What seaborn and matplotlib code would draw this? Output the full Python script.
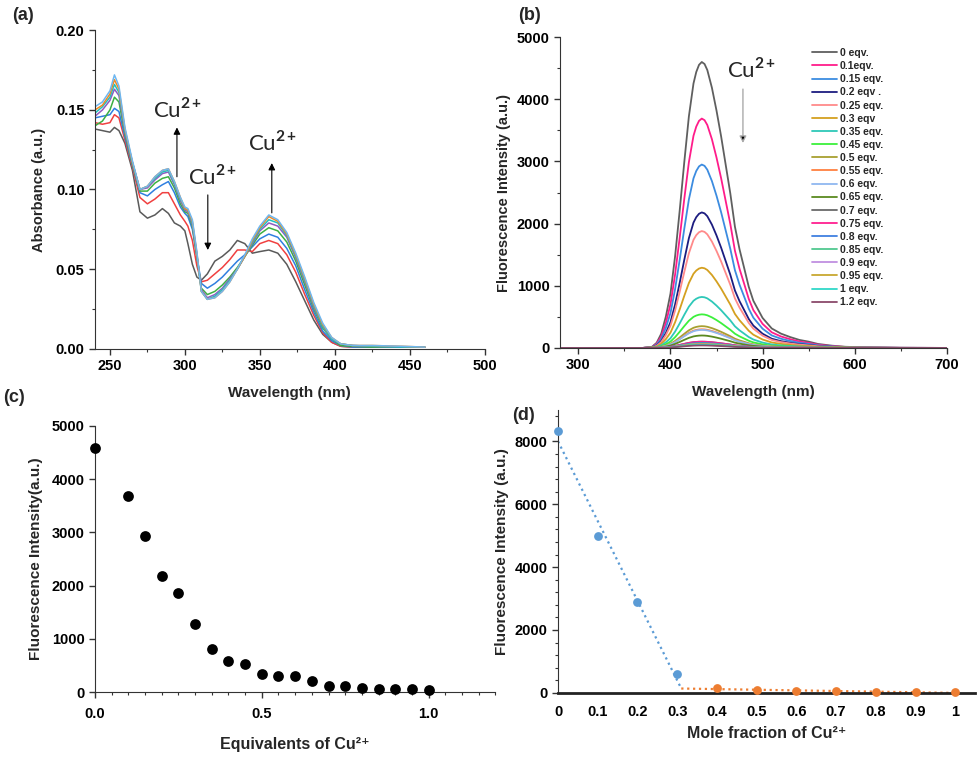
import numpy as np
import pandas as pd
import matplotlib.pyplot as plt
import seaborn as sns
from matplotlib.ticker import MultipleLocator, FormatStrFormatter

# ---------------- (a) UV-vis absorption ----------------
wl_abs = [240, 245, 250, 253, 256, 260, 265, 270, 275, 280, 285, 289, 293, 297, 300, 302, 305, 308, 311, 315,
          320, 325, 330, 335, 340, 345, 350, 356, 362, 368, 374, 380, 386, 392, 398, 404, 412, 425, 445, 460]
abs_gray = [0.138, 0.137, 0.136, 0.139, 0.137, 0.129, 0.112, 0.086, 0.082, 0.084, 0.088, 0.085, 0.079, 0.077, 0.074,
            0.066, 0.053, 0.045, 0.043, 0.047, 0.055, 0.058, 0.062, 0.068, 0.066, 0.060, 0.061, 0.062, 0.060, 0.053,
            0.042, 0.030, 0.018, 0.009, 0.004, 0.0015, 0.001, 0.001, 0.001, 0.001]
abs_red = [0.142, 0.141, 0.142, 0.147, 0.145, 0.131, 0.114, 0.095, 0.091, 0.094, 0.098, 0.098, 0.091, 0.084, 0.080,
           0.077, 0.068, 0.052, 0.042, 0.043, 0.047, 0.051, 0.056, 0.062, 0.062, 0.061, 0.066, 0.068, 0.066, 0.059,
           0.048, 0.034, 0.021, 0.010, 0.004, 0.0015, 0.001, 0.001, 0.001, 0.001]
abs_blue = [0.145, 0.146, 0.147, 0.151, 0.149, 0.133, 0.115, 0.098, 0.096, 0.100, 0.103, 0.105, 0.098, 0.089, 0.085,
            0.083, 0.075, 0.058, 0.041, 0.038, 0.041, 0.045, 0.050, 0.055, 0.059, 0.064, 0.069, 0.072, 0.070, 0.063,
            0.052, 0.037, 0.023, 0.011, 0.005, 0.002, 0.001, 0.001, 0.001, 0.001]
abs_green = [0.140, 0.143, 0.150, 0.158, 0.155, 0.135, 0.116, 0.099, 0.099, 0.104, 0.107, 0.108, 0.101, 0.091, 0.086,
             0.085, 0.077, 0.058, 0.038, 0.034, 0.036, 0.040, 0.045, 0.051, 0.058, 0.065, 0.072, 0.076, 0.074, 0.067,
             0.055, 0.040, 0.025, 0.013, 0.006, 0.002, 0.0015, 0.001, 0.001, 0.001]
abs_purple = [0.146, 0.150, 0.156, 0.163, 0.159, 0.136, 0.117, 0.100, 0.101, 0.106, 0.110, 0.111, 0.103, 0.093, 0.087,
              0.086, 0.078, 0.059, 0.037, 0.032, 0.034, 0.038, 0.044, 0.050, 0.058, 0.066, 0.074, 0.079, 0.077, 0.070,
              0.057, 0.042, 0.026, 0.014, 0.006, 0.003, 0.002, 0.0015, 0.001, 0.001]
abs_cyan = [0.148, 0.152, 0.158, 0.166, 0.161, 0.137, 0.117, 0.100, 0.102, 0.107, 0.111, 0.112, 0.104, 0.094, 0.088,
            0.087, 0.079, 0.059, 0.036, 0.031, 0.033, 0.037, 0.043, 0.050, 0.058, 0.067, 0.075, 0.081, 0.079, 0.071,
            0.058, 0.043, 0.027, 0.014, 0.006, 0.003, 0.002, 0.0015, 0.001, 0.001]
abs_orange = [0.150, 0.153, 0.160, 0.169, 0.163, 0.138, 0.117, 0.100, 0.102, 0.108, 0.112, 0.113, 0.105, 0.095, 0.088,
              0.087, 0.080, 0.060, 0.036, 0.031, 0.032, 0.036, 0.042, 0.050, 0.058, 0.068, 0.076, 0.083, 0.080, 0.072,
              0.059, 0.044, 0.028, 0.015, 0.007, 0.003, 0.002, 0.002, 0.0015, 0.001]
abs_final = [0.152, 0.155, 0.162, 0.172, 0.165, 0.139, 0.118, 0.100, 0.102, 0.108, 0.112, 0.113, 0.105, 0.095, 0.089,
             0.088, 0.081, 0.061, 0.036, 0.031, 0.032, 0.036, 0.042, 0.050, 0.059, 0.069, 0.077, 0.084, 0.081, 0.073,
             0.060, 0.045, 0.029, 0.016, 0.007, 0.003, 0.002, 0.002, 0.0015, 0.001]
abs_curves = {'gray': abs_gray, 'red': abs_red, 'blue': abs_blue, 'green': abs_green,
              'purple': abs_purple, 'cyan': abs_cyan, 'orange': abs_orange, 'final': abs_final}
abs_colors = ['#5a5a5a', '#f04040', '#2f7fe0', '#3cb043', '#8e5cc0', '#20c0c0', '#f08a24', '#6fb7f0']

# ---------------- (b) emission spectra ----------------
wl_em = [280, 370, 380, 385, 390, 395, 400, 405, 410, 415, 420, 425, 428, 431, 434, 437, 440, 445, 450, 455, 460,
         465, 470, 475, 480, 485, 490, 500, 510, 520, 530, 540, 550, 560, 575, 590, 610, 650, 700]
em_shape = [0, 0, 0.004, 0.018, 0.05, 0.11, 0.19, 0.32, 0.48, 0.65, 0.81, 0.925, 0.965, 0.99, 1.0, 0.993, 0.972,
            0.91, 0.83, 0.74, 0.64, 0.54, 0.424, 0.345, 0.28, 0.214, 0.165, 0.105, 0.068, 0.05, 0.038, 0.028,
            0.022, 0.014, 0.008, 0.004, 0.002, 0.0005, 0]
em_labels = ['0 eqv.', '0.1eqv.', '0.15 eqv.', '0.2 eqv .', '0.25 eqv.', '0.3 eqv', '0.35 eqv.', '0.45 eqv.',
             '0.5 eqv.', '0.55 eqv.', '0.6 eqv.', '0.65 eqv.', '0.7 eqv.', '0.75 eqv.', '0.8 eqv.', '0.85 eqv.',
             '0.9 eqv.', '0.95 eqv.', '1 eqv.', '1.2 eqv.']
em_peaks = [4600, 3690, 2950, 2180, 1880, 1290, 820, 540, 350, 300, 290, 200, 100, 100, 80, 70, 60, 60, 50, 40]
em_colors = ['#5f5f5f', '#ff1c8a', '#3c8ce0', '#1c1c80', '#ff8a8a', '#d4a020', '#2ec8b8', '#3cf03c',
             '#a8a030', '#ff8040', '#90b8f0', '#5a8a20', '#6a6a6a', '#ff2090', '#4080e0', '#50c890',
             '#c090e0', '#c8a830', '#30d8c8', '#8b4a6b']

# ---------------- (c) titration ----------------
eq_cu = [0.0, 0.1, 0.15, 0.2, 0.25, 0.3, 0.35, 0.4, 0.45, 0.5, 0.55, 0.6, 0.65, 0.7, 0.75, 0.8, 0.85, 0.9, 0.95, 1.0]
fl_int = [4590, 3680, 2940, 2175, 1870, 1285, 810, 585, 520, 335, 295, 295, 200, 105, 105, 75, 62, 50, 62, 45]

# ---------------- (d) Job plot ----------------
mf_left = [0.0, 0.1, 0.2, 0.3]
job_left = [8340, 4990, 2880, 590]
mf_right = [0.4, 0.5, 0.6, 0.7, 0.8, 0.9, 1.0]
job_right = [158, 84, 53, 42, 21, 21, 21]
job_ticks = [0, 0.1, 0.2, 0.3, 0.4, 0.5, 0.6, 0.7, 0.8, 0.9, 1]
job_ticklabels = ['0', '0.1', '0.2', '0.3', '0.4', '0.5', '0.6', '0.7', '0.8', '0.9', '1']

sns.set_style('ticks')
plt.rcParams['font.family'] = ['Liberation Sans', 'DejaVu Sans']
plt.rcParams['font.weight'] = 'bold'
plt.rcParams['axes.labelweight'] = 'bold'
plt.rcParams['axes.edgecolor'] = '#333333'
plt.rcParams['xtick.color'] = '#333333'
plt.rcParams['ytick.color'] = '#333333'
plt.rcParams['xtick.labelcolor'] = 'black'
plt.rcParams['ytick.labelcolor'] = 'black'
plt.rcParams['mathtext.fontset'] = 'custom'
plt.rcParams['mathtext.rm'] = 'Lato'
plt.rcParams['mathtext.it'] = 'Lato:italic'
plt.rcParams['mathtext.bf'] = 'Lato:bold'

fig = plt.figure(figsize=(9.79, 7.58), dpi=100)
ax_a = fig.add_axes([0.097, 0.540, 0.398, 0.420])
ax_b = fig.add_axes([0.572, 0.541, 0.395, 0.410])
ax_c = fig.add_axes([0.097, 0.087, 0.409, 0.351])
ax_d = fig.add_axes([0.570, 0.086, 0.426, 0.373])

cu_font = dict(family='Lato', fontsize=16, fontweight='normal')
cu_txt = r'Cu$^{\mathrm{2+}}$'
TICK_FS = 10.5

# ---- (a)
df_a = pd.concat([pd.DataFrame({'wl': wl_abs, 'A': v, 'curve': k}) for k, v in abs_curves.items()])
sns.lineplot(data=df_a, x='wl', y='A', hue='curve', palette=abs_colors, estimator=None, sort=False,
             linewidth=1.1, legend=False, ax=ax_a)
ax_a.set_xlim(240, 500)
ax_a.set_ylim(0, 0.20)
ax_a.xaxis.set_major_locator(MultipleLocator(50))
ax_a.xaxis.set_minor_locator(MultipleLocator(25))
ax_a.yaxis.set_major_locator(MultipleLocator(0.05))
ax_a.yaxis.set_minor_locator(MultipleLocator(0.025))
ax_a.yaxis.set_major_formatter(FormatStrFormatter('%.2f'))
ax_a.set_xlabel('Wavelength (nm)', fontsize=11, labelpad=9)
ax_a.set_ylabel('Absorbance (a.u.)', fontsize=10.5, labelpad=7)
ax_a.text(279, 0.150, cu_txt, ha='left', va='center', **cu_font)
ax_a.text(302, 0.108, cu_txt, ha='left', va='center', **cu_font)
ax_a.text(342, 0.129, cu_txt, ha='left', va='center', **cu_font)
arrow_kw = dict(arrowstyle='-|>', color='black', lw=0.8, mutation_scale=10, shrinkA=0, shrinkB=0)
ax_a.annotate('', xy=(294.7, 0.139), xytext=(294.7, 0.108), arrowprops=arrow_kw)
ax_a.annotate('', xy=(315.3, 0.062), xytext=(315.3, 0.0966), arrowprops=arrow_kw)
ax_a.annotate('', xy=(358, 0.1166), xytext=(358, 0.0853), arrowprops=arrow_kw)

# ---- (b)
df_b = pd.concat([pd.DataFrame({'wl': wl_em, 'I': np.array(em_shape) * pk, 'eq': lab})
                  for lab, pk in zip(em_labels, em_peaks)])
sns.lineplot(data=df_b, x='wl', y='I', hue='eq', hue_order=em_labels, palette=em_colors,
             estimator=None, sort=False, linewidth=1.3, ax=ax_b)
handles, labels = ax_b.get_legend_handles_labels()
ax_b.legend(handles, labels, loc='upper left', bbox_to_anchor=(0.651, 0.965), frameon=False,
            prop=dict(family='Liberation Sans', weight='bold', size=7.5), handlelength=2.4,
            handletextpad=0.3, labelspacing=0.3, borderpad=0, borderaxespad=0)
ax_b.set_xlim(280, 700)
ax_b.set_ylim(0, 5000)
ax_b.xaxis.set_major_locator(MultipleLocator(100))
ax_b.xaxis.set_minor_locator(MultipleLocator(50))
ax_b.yaxis.set_major_locator(MultipleLocator(1000))
ax_b.yaxis.set_minor_locator(MultipleLocator(500))
ax_b.set_xlabel('Wavelength (nm)', fontsize=11, labelpad=9)
ax_b.set_ylabel('Fluorescence Intensity (a.u.)', fontsize=10.5, labelpad=4)
ax_b.text(461, 4470, cu_txt, ha='left', va='center', **cu_font)
ax_b.annotate('', xy=(478.7, 3296), xytext=(478.7, 4164),
              arrowprops=dict(arrowstyle='-|>', fc='black', ec='#aaaaaa', lw=1.0, mutation_scale=10,
                              shrinkA=0, shrinkB=0))

# ---- (c)
sns.scatterplot(x=eq_cu, y=fl_int, color='black', s=60, edgecolor='black', linewidth=0,
                clip_on=False, zorder=5, ax=ax_c)
ax_c.set_xlim(0, 1.2)
ax_c.set_ylim(0, 5000)
ax_c.xaxis.set_major_locator(MultipleLocator(0.5))
ax_c.xaxis.set_minor_locator(MultipleLocator(0.05))
ax_c.xaxis.set_major_formatter(FormatStrFormatter('%.1f'))
ax_c.yaxis.set_major_locator(MultipleLocator(1000))
ax_c.set_xlabel('Equivalents of Cu²⁺', fontsize=11.5, labelpad=11)
ax_c.set_ylabel('Fluorescence Intensity(a.u.)', fontsize=11, labelpad=6)

# ---- (d)
blue_c, orange_c = '#5b9bd5', '#ed7d31'
kb = np.polyfit(mf_left, job_left, 1)
ko = np.polyfit(mf_right, job_right, 1)
x_cross = (ko[1] - kb[1]) / (kb[0] - ko[0])
xb = np.array([0, x_cross])
xo = np.array([x_cross, mf_right[-1]])
sns.lineplot(x=xb, y=np.polyval(kb, xb), color=blue_c, linestyle=':', linewidth=1.6, ax=ax_d)
sns.lineplot(x=xo, y=np.polyval(ko, xo), color=orange_c, linestyle=':', linewidth=1.6, ax=ax_d)
sns.scatterplot(x=mf_left, y=job_left, color=blue_c, s=40, linewidth=0, clip_on=False, zorder=5, ax=ax_d)
sns.scatterplot(x=mf_right, y=job_right, color=orange_c, s=40, linewidth=0, clip_on=False, zorder=5, ax=ax_d)
ax_d.set_xlim(0, 1.05)
ax_d.set_ylim(0, 9000)
ax_d.set_xticks(job_ticks)
ax_d.set_xticklabels(job_ticklabels)
ax_d.yaxis.set_major_locator(MultipleLocator(2000))
ax_d.yaxis.set_minor_locator(MultipleLocator(400))
ax_d.spines['bottom'].set_linewidth(2.0)
ax_d.spines['bottom'].set_color('#222222')
ax_d.set_xlabel('Mole fraction of Cu²⁺', fontsize=11.5, labelpad=5)
ax_d.set_ylabel('Fluorescence Intensity (a.u.)', fontsize=11, labelpad=4)

for ax in (ax_a, ax_b, ax_c, ax_d):
    sns.despine(ax=ax)
    ax.tick_params(which='major', labelsize=TICK_FS, width=1.0, length=4)
    ax.tick_params(which='minor', width=0.8, length=2.5)
    for lab in ax.get_xticklabels() + ax.get_yticklabels():
        lab.set_fontweight('bold')
ax_c.tick_params(axis='x', which='major', pad=7)
ax_d.tick_params(axis='x', length=0, pad=9)

panel_font = dict(fontsize=13, fontweight='bold')
fig.text(12 / 979, 1 - 15 / 758, '(a)', va='center', ha='left', **panel_font)
fig.text(518 / 979, 1 - 16 / 758, '(b)', va='center', ha='left', **panel_font)
fig.text(3 / 979, 1 - 397 / 758, '(c)', va='center', ha='left', **panel_font)
fig.text(512 / 979, 1 - 415 / 758, '(d)', va='center', ha='left', **panel_font)

fig.savefig('out.png', dpi=100)
